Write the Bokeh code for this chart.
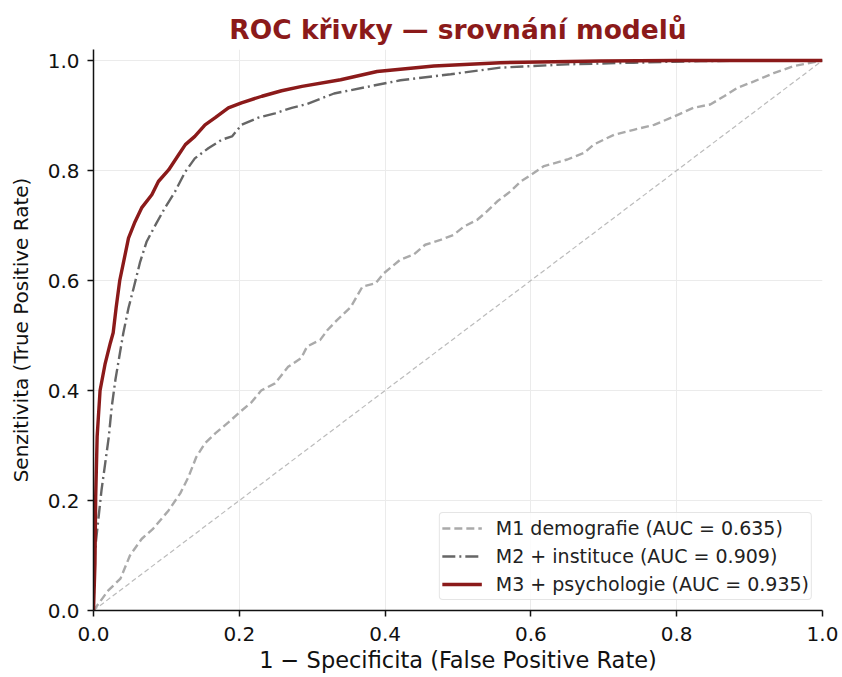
from bokeh.plotting import figure
from bokeh.models import Range1d, FixedTicker, Legend, LegendItem, NumeralTickFormatter
from bokeh.embed import file_html
from bokeh.resources import INLINE

# ---- data ----
m1_fpr = [0.0, 0.02, 0.037, 0.05, 0.066, 0.082, 0.103, 0.119, 0.13, 0.141, 0.153, 0.167, 0.185, 0.201,
          0.217, 0.23, 0.249, 0.267, 0.285, 0.293, 0.311, 0.321, 0.334, 0.353, 0.369, 0.387, 0.398, 0.421,
          0.439, 0.455, 0.476, 0.494, 0.508, 0.526, 0.54, 0.554, 0.572, 0.586, 0.6, 0.618, 0.65, 0.673,
          0.686, 0.714, 0.741, 0.769, 0.796, 0.823, 0.846, 0.865, 0.883, 0.906, 0.933, 0.961, 0.993, 1.0]
m1_tpr = [0.0, 0.036, 0.058, 0.1, 0.13, 0.149, 0.182, 0.213, 0.242, 0.279, 0.304, 0.322, 0.342, 0.361,
          0.379, 0.4, 0.413, 0.443, 0.459, 0.48, 0.492, 0.51, 0.528, 0.552, 0.589, 0.595, 0.613, 0.638,
          0.647, 0.665, 0.674, 0.683, 0.698, 0.71, 0.726, 0.744, 0.762, 0.78, 0.792, 0.808, 0.82, 0.832,
          0.847, 0.865, 0.874, 0.883, 0.898, 0.914, 0.92, 0.935, 0.95, 0.962, 0.977, 0.99, 0.998, 1.0]

m2_fpr = [0.0, 0.002, 0.007, 0.011, 0.016, 0.021, 0.025, 0.03, 0.037, 0.041, 0.048, 0.055, 0.064, 0.073,
          0.085, 0.098, 0.112, 0.126, 0.139, 0.158, 0.176, 0.19, 0.203, 0.226, 0.249, 0.272, 0.293, 0.33,
          0.375, 0.421, 0.49, 0.558, 0.65, 0.741, 0.833, 1.0]
m2_tpr = [0.0, 0.109, 0.17, 0.219, 0.267, 0.316, 0.37, 0.419, 0.474, 0.505, 0.55, 0.586, 0.634, 0.671,
          0.701, 0.732, 0.762, 0.798, 0.822, 0.841, 0.856, 0.862, 0.883, 0.896, 0.904, 0.914, 0.921, 0.94,
          0.952, 0.964, 0.975, 0.987, 0.993, 0.996, 0.999, 1.0]

m3_fpr = [0.0, 0.002, 0.003, 0.005, 0.009, 0.016, 0.023, 0.027, 0.031, 0.036, 0.041, 0.048, 0.057, 0.066,
          0.08, 0.089, 0.103, 0.117, 0.126, 0.139, 0.153, 0.167, 0.185, 0.203, 0.231, 0.258, 0.286, 0.339,
          0.389, 0.467, 0.558, 0.695, 0.8, 1.0]
m3_tpr = [0.0, 0.085, 0.206, 0.316, 0.4, 0.449, 0.486, 0.505, 0.55, 0.6, 0.632, 0.677, 0.707, 0.732,
          0.756, 0.78, 0.801, 0.829, 0.847, 0.862, 0.883, 0.896, 0.914, 0.923, 0.935, 0.945, 0.953, 0.965,
          0.98, 0.99, 0.996, 0.999, 1.0, 1.0]

diag = [0.0, 1.0]

labels = ["M1 demografie (AUC = 0.635)",
          "M2 + instituce (AUC = 0.909)",
          "M3 + psychologie (AUC = 0.935)"]
ticks = [0.0, 0.2, 0.4, 0.6, 0.8, 1.0]

RED = "#8b1a1a"
FONT = "DejaVu Sans"

p = figure(width=842, height=677, output_backend="svg", toolbar_location=None,
           x_range=Range1d(0, 1), y_range=Range1d(0, 1.02),
           min_border_left=93, min_border_right=20, min_border_top=49, min_border_bottom=67,
           title="ROC křivky — srovnání modelů")

p.title.text_font = FONT
p.title.text_font_size = "26.5px"
p.title.text_font_style = "bold"
p.title.text_color = RED
p.title.align = "center"
p.title.standoff = 9

p.outline_line_color = None
p.background_fill_color = "white"
p.border_fill_color = "white"

# diagonal
p.line(diag, diag, line_color="#bbbbbb", line_width=1.2, line_dash="5 3")

r1 = p.line(m1_fpr, m1_tpr, line_color="#aaaaaa", line_width=2.4, line_dash="8 4")
r2 = p.line(m2_fpr, m2_tpr, line_color="#666666", line_width=2.4, line_dash="13 4 2 4")
r3 = p.line(m3_fpr, m3_tpr, line_color=RED, line_width=3.4)

legend = Legend(items=[LegendItem(label=labels[0], renderers=[r1]),
                       LegendItem(label=labels[1], renderers=[r2]),
                       LegendItem(label=labels[2], renderers=[r3])],
                location="bottom_right")
legend.label_text_font = FONT
legend.label_text_font_size = "19px"
legend.label_text_color = "#222222"
legend.glyph_width = 40
legend.glyph_height = 26
legend.label_height = 26
legend.label_standoff = 14
legend.spacing = 2
legend.padding = 2
legend.margin = 10
legend.border_line_color = "#cccccc"
legend.border_line_width = 1.2
legend.border_radius = 4
legend.background_fill_alpha = 0.85
p.add_layout(legend)

for ax in (p.xaxis[0], p.yaxis[0]):
    ax.ticker = FixedTicker(ticks=ticks)
    ax.formatter = NumeralTickFormatter(format="0.0")
    ax.axis_line_width = 1.5
    ax.axis_line_color = "#111111"
    ax.major_tick_line_width = 1.5
    ax.major_tick_line_color = "#111111"
    ax.major_tick_out = 6
    ax.major_tick_in = 0
    ax.minor_tick_line_color = None
    ax.major_label_text_font = FONT
    ax.major_label_text_font_size = "20px"
    ax.major_label_text_color = "#111111"
    ax.axis_label_text_font = FONT
    ax.axis_label_text_font_style = "normal"
    ax.axis_label_text_color = "#111111"

p.xaxis.axis_label = "1 − Specificita (False Positive Rate)"
p.yaxis.axis_label = "Senzitivita (True Positive Rate)"
p.xaxis.axis_label_text_font_size = "22.5px"
p.yaxis.axis_label_text_font_size = "20px"
p.xaxis.major_label_standoff = 10
p.yaxis.major_label_standoff = 8
p.xaxis.axis_label_standoff = 3
p.yaxis.axis_label_standoff = 12

p.xgrid.ticker = FixedTicker(ticks=ticks)
p.ygrid.ticker = FixedTicker(ticks=ticks)
p.grid.grid_line_color = "#ebebeb"
p.grid.grid_line_width = 1

open("out.html", "w").write(file_html(p, INLINE))
